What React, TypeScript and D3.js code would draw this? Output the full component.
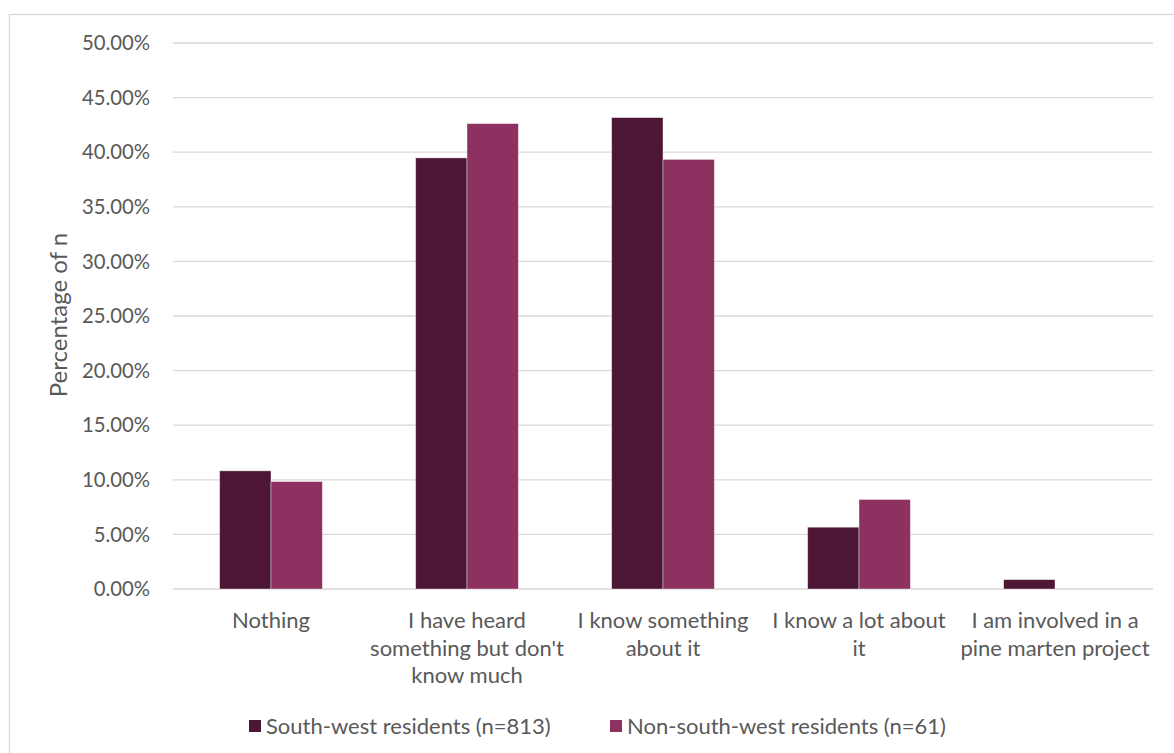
import React, { useEffect, useRef } from "react";
import * as d3 from "d3";

const categories = [
  "Nothing",
  "I have heard something but don't know much",
  "I know something about it",
  "I know a lot about it",
  "I am involved in a pine marten project",
];
const categoryLines = [
  ["Nothing"],
  ["I have heard", "something but don't", "know much"],
  ["I know something", "about it"],
  ["I know a lot about", "it"],
  ["I am involved in a", "pine marten project"],
];
const seriesNames = ["South-west residents (n=813)", "Non-south-west residents (n=61)"];
const southWest = [10.82, 39.48, 43.17, 5.66, 0.86];
const nonSouthWest = [9.84, 42.62, 39.34, 8.2, 0];
const yTicks = [0, 5, 10, 15, 20, 25, 30, 35, 40, 45, 50];
const colors = ["#4c1634", "#8c3160"];

const W = 1174;
const H = 753;
const FONT = "Lato, 'Gill Sans', sans-serif";

export default function App() {
  const ref = useRef<SVGSVGElement>(null);
  useEffect(() => {
    const svg = d3.select(ref.current);
    svg.selectAll("*").remove();
    const left = 173, right = 1153, top = 43, bottom = 589;
    const x = d3.scaleBand<string>().domain(categories).range([left, right]).paddingInner(0).paddingOuter(0);
    const y = d3.scaleLinear().domain([0, 50]).range([bottom, top]);
    const groupW = x.bandwidth() * 0.524;
    const x1 = d3.scaleBand<number>().domain([0, 1]).range([0, groupW]);

    svg.append("rect").attr("x", 9.5).attr("y", 14.5).attr("width", 1180).attr("height", 760)
      .attr("fill", "#fff").attr("stroke", "#d9d9d9").attr("stroke-width", 1.3);

    const g = svg.append("g");
    g.selectAll("line.grid").data(yTicks).join("line")
      .attr("x1", left).attr("x2", right)
      .attr("y1", (d) => y(d)).attr("y2", (d) => y(d))
      .attr("stroke", "#d9d9d9").attr("stroke-width", 1.3);

    g.selectAll("text.ytick").data(yTicks).join("text")
      .attr("x", 150).attr("y", (d) => y(d)).attr("dy", "0.35em")
      .attr("text-anchor", "end").attr("fill", "#595959")
      .attr("font-family", FONT).attr("font-size", 20.3)
      .text((d) => d3.format(".2f")(d) + "%");

    const series = [southWest, nonSouthWest];
    series.forEach((vals, si) => {
      g.append("g").selectAll("rect").data(vals).join("rect")
        .attr("x", (_d, i) => (x(categories[i]) as number) + (x.bandwidth() - groupW) / 2 + (x1(si) as number))
        .attr("width", x1.bandwidth())
        .attr("y", (d) => y(d))
        .attr("height", (d) => y(0) - y(d))
        .attr("fill", colors[si])
        .attr("stroke", (d) => (d > 0 ? "#ffffff" : "none"))
        .attr("stroke-opacity", 0.5)
        .attr("stroke-width", 0.8);
    });

    categories.forEach((c, i) => {
      const cx = (x(c) as number) + x.bandwidth() / 2;
      const t = g.append("text").attr("text-anchor", "middle").attr("fill", "#595959")
        .attr("font-family", FONT).attr("font-size", 22);
      categoryLines[i].forEach((ln, li) => {
        t.append("tspan").attr("x", cx).attr("y", 628 + li * 27.5).text(ln);
      });
    });

    svg.append("text")
      .attr("transform", `translate(67,${(top + bottom) / 2 - 1}) rotate(-90)`)
      .attr("text-anchor", "middle").attr("fill", "#595959")
      .attr("font-family", FONT).attr("font-size", 24)
      .text("Percentage of n");

    const legendX = [249, 610];
    seriesNames.forEach((s, i) => {
      svg.append("rect").attr("x", legendX[i]).attr("y", 720).attr("width", 12).attr("height", 12)
        .attr("fill", colors[i]);
      svg.append("text").attr("x", legendX[i] + 17).attr("y", 726).attr("dy", "0.35em")
        .attr("fill", "#595959").attr("font-family", FONT).attr("font-size", 22).text(s);
    });
  }, []);
  return (
    <svg ref={ref} width={W} height={H} style={{ position: "absolute", left: 0, top: 0, background: "#fff" }} />
  );
}
